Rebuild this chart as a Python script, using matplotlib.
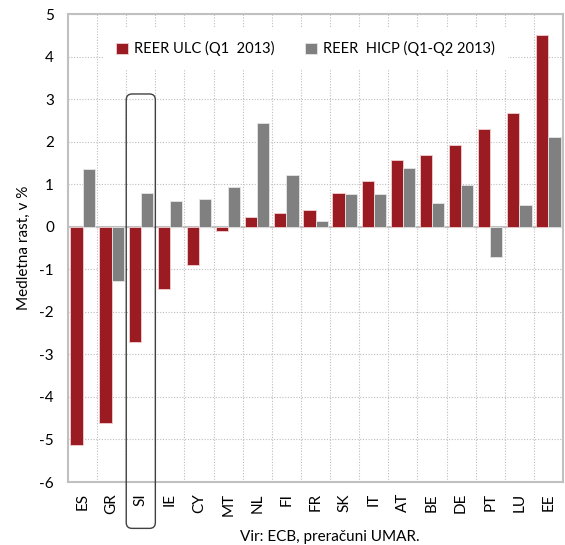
import matplotlib
matplotlib.use("Agg")
import matplotlib.pyplot as plt
import numpy as np
from matplotlib.patches import FancyBboxPatch

countries = ["ES", "GR", "SI", "IE", "CY", "MT", "NL", "FI", "FR", "SK", "IT",
             "AT", "BE", "DE", "PT", "LU", "EE"]
reer_ulc = [-5.14, -4.61, -2.71, -1.46, -0.91, -0.10, 0.23, 0.33, 0.40, 0.80, 1.08,
            1.58, 1.69, 1.93, 2.30, 2.67, 4.51]
reer_hicp = [1.35, -1.28, 0.80, 0.61, 0.64, 0.94, 2.43, 1.21, 0.13, 0.78, 0.78,
             1.38, 0.55, 0.98, -0.71, 0.51, 2.10]
label_ulc = "REER ULC (Q1  2013)"
label_hicp = "REER  HICP (Q1-Q2 2013)"
yticks = [-6, -5, -4, -3, -2, -1, 0, 1, 2, 3, 4, 5]

plt.rcParams['font.family'] = ['Lato', 'DejaVu Sans']

fig = plt.figure(figsize=(5.65, 5.45), dpi=100)
ax = fig.add_axes([68/565, 1 - 482/545, (563-68)/565, (482-14)/545])

red = "#9b1b22"
gray = "#808080"
x = np.arange(len(countries))
w = 0.42
ax.bar(x - w/2, reer_ulc, w, color=red, edgecolor="#f2d0d0", linewidth=0.6,
       label=label_ulc, zorder=3)
ax.bar(x + w/2, reer_hicp, w, color=gray, edgecolor="#e6e6e6", linewidth=0.6,
       label=label_hicp, zorder=3)

ax.set_xlim(-0.5, len(countries) - 0.5)
ax.set_ylim(-6, 5)
ax.set_yticks(yticks)
ax.set_yticklabels([str(v) for v in yticks], fontsize=11)
ax.set_xticks(x)
ax.set_xticklabels(countries, rotation=90, fontsize=11)
ax.tick_params(axis='both', length=0, pad=10)
ax.tick_params(axis='x', pad=8)

# grid: dotted horizontal at integers, vertical at category boundaries
for v in yticks:
    ax.axhline(v, color="#bdbdbd", linestyle=(0, (1, 1.5)), linewidth=0.8, zorder=0)
for b in np.arange(0.5, len(countries) - 0.5, 1.0):
    ax.axvline(b, color="#bdbdbd", linestyle=(0, (1, 1.5)), linewidth=0.8, zorder=0)
ax.axhline(0, color="#c0c0c0", linewidth=1.5, zorder=2)

for s in ax.spines.values():
    s.set_color("#c0c0c0")
    s.set_linewidth(1.5)

ax.set_ylabel("Medletna rast, v %", fontsize=11, labelpad=6)

leg = ax.legend(loc="upper center", bbox_to_anchor=(0.48, 0.985), ncol=2,
                frameon=True, fontsize=10.5, handlelength=0.8, handleheight=0.8,
                handletextpad=0.45, columnspacing=2.1, borderpad=0.9)
leg.get_frame().set_edgecolor("none")
leg.get_frame().set_facecolor("white")
leg.get_frame().set_alpha(1)
leg.set_zorder(4)

# rounded box around SI
px_x = (563 - 68) / 17
px_y = (482 - 14) / 11
box = FancyBboxPatch((1.5, -7.09), 1.0, 3.12 + 7.09,
                     boxstyle="round,pad=0,rounding_size=0.2",
                     mutation_aspect=px_x / px_y,
                     facecolor="none", edgecolor="#404040", linewidth=1.0,
                     clip_on=False, zorder=5, transform=ax.transData)
ax.add_patch(box)

fig.text(330/565, 1 - 537/545, "Vir: ECB, preračuni UMAR.", ha="center",
         va="center", fontsize=11)

fig.savefig("out.png", dpi=100)
